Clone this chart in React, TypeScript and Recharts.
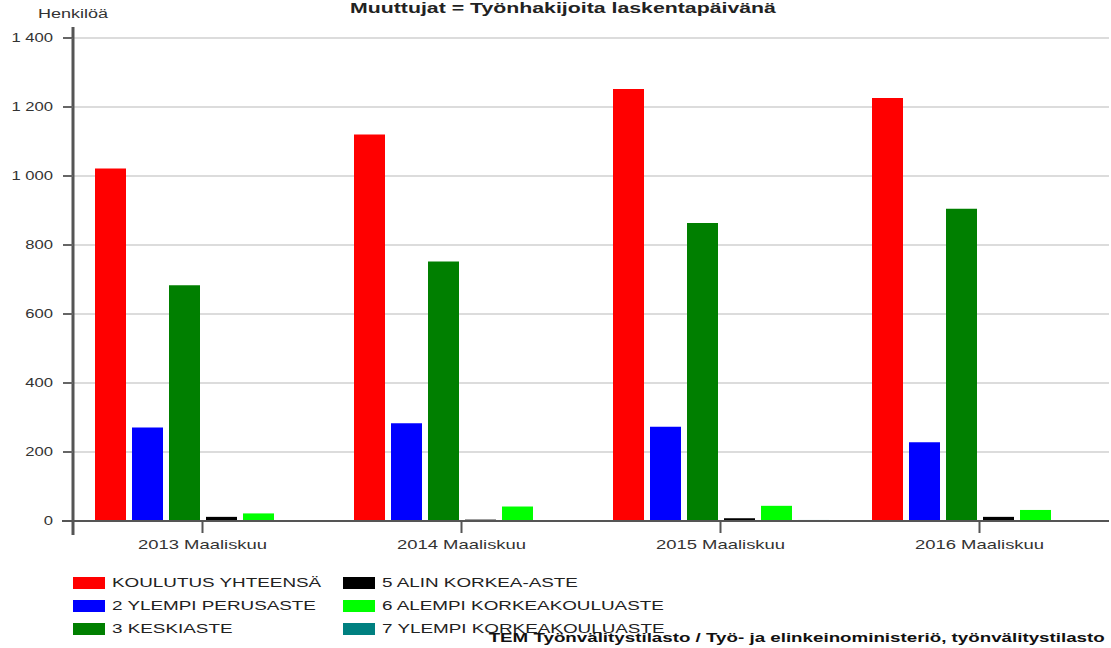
import { BarChart, Bar, XAxis, YAxis, CartesianGrid } from "recharts"

const categories = ["2013 Maaliskuu", "2014 Maaliskuu", "2015 Maaliskuu", "2016 Maaliskuu"]

const koulutusYhteensa = [1022, 1120, 1252, 1226]
const ylempiPerusaste = [271, 283, 273, 228]
const keskiaste = [683, 752, 864, 905]
const alinKorkeaAste = [12, 4, 8, 12]
const alempiKorkeakouluaste = [22, 42, 44, 32]
const ylempiKorkeakouluaste = [0, 1, 3, 1]

const yTicks = [0, 200, 400, 600, 800, 1000, 1200, 1400]

const series = [
  { key: "k", name: "KOULUTUS YHTEENSÄ", color: "#ff0000", values: koulutusYhteensa },
  { key: "p", name: "2 YLEMPI PERUSASTE", color: "#0000ff", values: ylempiPerusaste },
  { key: "s", name: "3 KESKIASTE", color: "#007f00", values: keskiaste },
  { key: "a", name: "5 ALIN KORKEA-ASTE", color: "#000000", values: alinKorkeaAste },
  { key: "l", name: "6 ALEMPI KORKEAKOULUASTE", color: "#00ff00", values: alempiKorkeakouluaste },
  { key: "y", name: "7 YLEMPI KORKEAKOULUASTE", color: "#008080", values: ylempiKorkeakouluaste },
]

const data = categories.map((c, i) => {
  const row: Record<string, string | number> = { cat: c }
  series.forEach((s) => (row[s.key] = s.values[i]))
  return row
})

const fmt = (v: number) => String(v).replace(/\B(?=(\d{3})+(?!\d))/g, " ")

const font = "'Liberation Sans', Arial, sans-serif"

// the source image is stretched sideways, so the text is too
const XTick = (props: any) => {
  const { x, y, payload } = props
  return (
    <g transform={`translate(${x},${y}) scale(1.42,1)`}>
      <text x={0} y={0} dy={10} textAnchor="middle" fill="#333" fontSize={13} fontFamily={font}>
        {payload.value}
      </text>
    </g>
  )
}

const YTick = (props: any) => {
  const { x, y, payload } = props
  return (
    <g transform={`translate(${x - 2},${y}) scale(1.28,1)`}>
      <text x={0} y={0} dy={4} textAnchor="end" fill="#333" fontSize={13} fontFamily={font}>
        {fmt(payload.value)}
      </text>
    </g>
  )
}

const stretched = (sx: number, origin: string) => ({
  transform: `scaleX(${sx})`,
  transformOrigin: origin,
  whiteSpace: "nowrap" as const,
})

export default function App() {
  const legendCols = [series.slice(0, 3), series.slice(3)]
  return (
    <div style={{ position: "absolute", left: 0, top: 0, width: 1111, height: 648, background: "#fff", fontFamily: font, overflow: "hidden" }}>
      <div style={{ position: "absolute", top: 0, left: 563, fontSize: 14, fontWeight: "bold", color: "#222", lineHeight: "16px" }}>
        <div style={{ whiteSpace: "nowrap", transform: "translateX(-50%) scaleX(1.52)" }}>
          Muuttujat = Työnhakijoita laskentapäivänä
        </div>
      </div>
      <div style={{ position: "absolute", top: 7, left: 38, fontSize: 12, color: "#333", ...stretched(1.5, "left") }}>Henkilöä</div>
      <BarChart
        width={1111}
        height={648}
        data={data}
        margin={{ top: 38, right: 2, left: 0, bottom: 97 }}
        barGap={6}
        barCategoryGap={21}
      >
        <CartesianGrid vertical={false} stroke="#dcdcdc" strokeWidth={2} />
        <XAxis
          dataKey="cat"
          height={30}
          axisLine={{ stroke: "#555", strokeWidth: 2 }}
          tickLine={{ stroke: "#555", strokeWidth: 2 }}
          tickSize={12}
          tick={<XTick />}
          tickMargin={6}
        />
        <YAxis
          width={73}
          domain={[0, 1400]}
          ticks={yTicks}
          interval={0}
          axisLine={{ stroke: "#555", strokeWidth: 3 }}
          tickLine={{ stroke: "#666", strokeWidth: 2 }}
          tickSize={10}
          tickMargin={8}
          tick={<YTick />}
        />
        {series.map((s) => (
          <Bar key={s.key} dataKey={s.key} name={s.name} fill={s.color} barSize={31} isAnimationActive={false} />
        ))}
      </BarChart>
      <svg style={{ position: "absolute", left: 0, top: 0 }} width={1111} height={648}>
        <line x1={73} y1={27} x2={73} y2={38} stroke="#555" strokeWidth={3} />
        <line x1={73} y1={521} x2={73} y2={535} stroke="#555" strokeWidth={3} />
        <line x1={62} y1={521} x2={73} y2={521} stroke="#555" strokeWidth={2} />
      </svg>
      {legendCols.map((col, ci) => (
        <div key={ci} style={{ position: "absolute", left: ci === 0 ? 73 : 343, top: 571 }}>
          {col.map((s) => (
            <div key={s.key} style={{ display: "flex", alignItems: "center", height: 23, fontSize: 13, color: "#222" }}>
              <div style={{ width: 32, height: 12, background: s.color, marginRight: 7, flexShrink: 0 }} />
              <span style={stretched(1.45, "left")}>{s.name}</span>
            </div>
          ))}
        </div>
      ))}
      <div style={{ position: "absolute", right: 6, top: 631, fontSize: 12.5, fontWeight: "bold", color: "#111", ...stretched(1.5, "right") }}>
        TEM Työnvälitystilasto / Työ- ja elinkeinoministeriö, työnvälitystilasto
      </div>
    </div>
  )
}
